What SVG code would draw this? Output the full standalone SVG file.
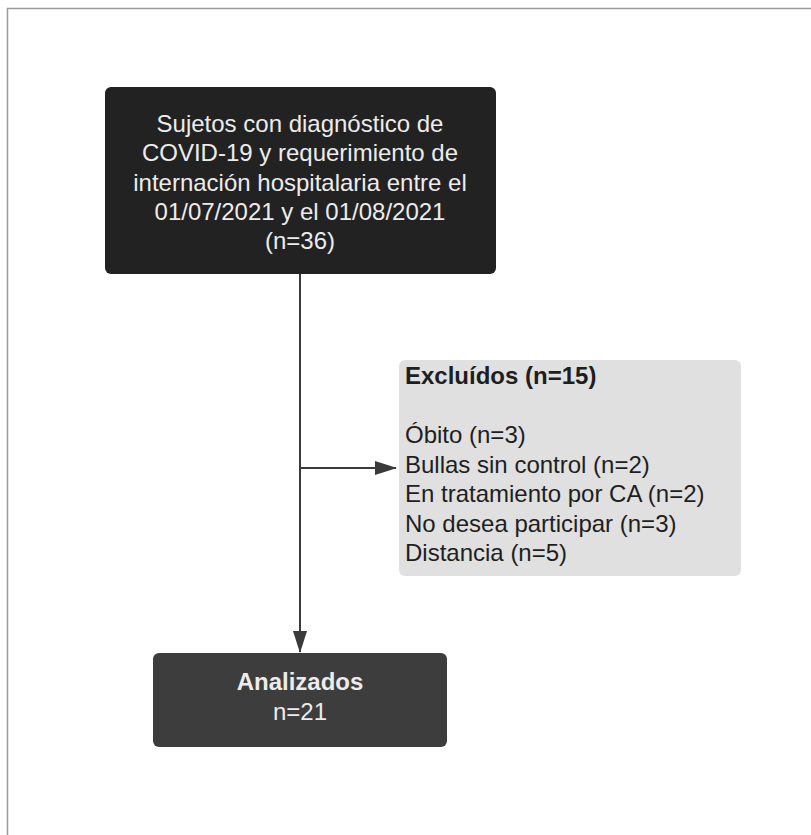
<svg xmlns="http://www.w3.org/2000/svg" width="811" height="835" viewBox="0 0 811 835">
  <style>
    .frame { stroke: #9a9a9a; stroke-width: 1.5; fill: none; }
    .conn { stroke: #3a3a3a; stroke-width: 2; fill: none; }
    .dark { fill: #222222; }
    .mid { fill: #3d3d3d; }
    .light { fill: #e0e0e0; }
    text { font-family: "Liberation Sans", Arial, sans-serif; font-size: 24px; }
    .wt { fill: #ececec; text-anchor: middle; }
    .bt { fill: #1e1e1e; }
    .b { font-weight: bold; }
  </style>
  <defs>
    <marker id="arrow" markerUnits="userSpaceOnUse" markerWidth="22" markerHeight="14" refX="21" refY="7" orient="auto">
      <path d="M0,0 L22,7 L0,14 z" fill="#3a3a3a"/>
    </marker>
  </defs>
  <rect width="811" height="835" fill="#ffffff"/>
  <path class="frame" d="M7.5,835 L7.5,8.5 L811,8.5"/>

  <g id="connectors">
    <line class="conn" x1="300" y1="274" x2="300" y2="652" marker-end="url(#arrow)"/>
    <line class="conn" x1="300" y1="468" x2="396" y2="468" marker-end="url(#arrow)"/>
  </g>

  <g id="node-sujetos">
    <rect class="dark" x="105" y="87" width="391" height="187" rx="6"/>
    <text class="wt" x="300" y="132">Sujetos con diagnóstico de</text>
    <text class="wt" x="300" y="161">COVID-19 y requerimiento de</text>
    <text class="wt" x="300" y="191">internación hospitalaria entre el</text>
    <text class="wt" x="300" y="220">01/07/2021 y el 01/08/2021</text>
    <text class="wt" x="300" y="249">(n=36)</text>
  </g>

  <g id="node-excluidos">
    <rect class="light" x="399" y="360" width="342" height="216" rx="6"/>
    <text class="bt b" x="405" y="384">Excluídos (n=15)</text>
    <text class="bt" x="405" y="443">Óbito (n=3)</text>
    <text class="bt" x="405" y="473">Bullas sin control (n=2)</text>
    <text class="bt" x="405" y="502">En tratamiento por CA (n=2)</text>
    <text class="bt" x="405" y="532">No desea participar (n=3)</text>
    <text class="bt" x="405" y="561">Distancia (n=5)</text>
  </g>

  <g id="node-analizados">
    <rect class="mid" x="153" y="653" width="294" height="94" rx="6"/>
    <text class="wt b" x="300" y="690">Analizados</text>
    <text class="wt" x="300" y="720">n=21</text>
  </g>
</svg>
